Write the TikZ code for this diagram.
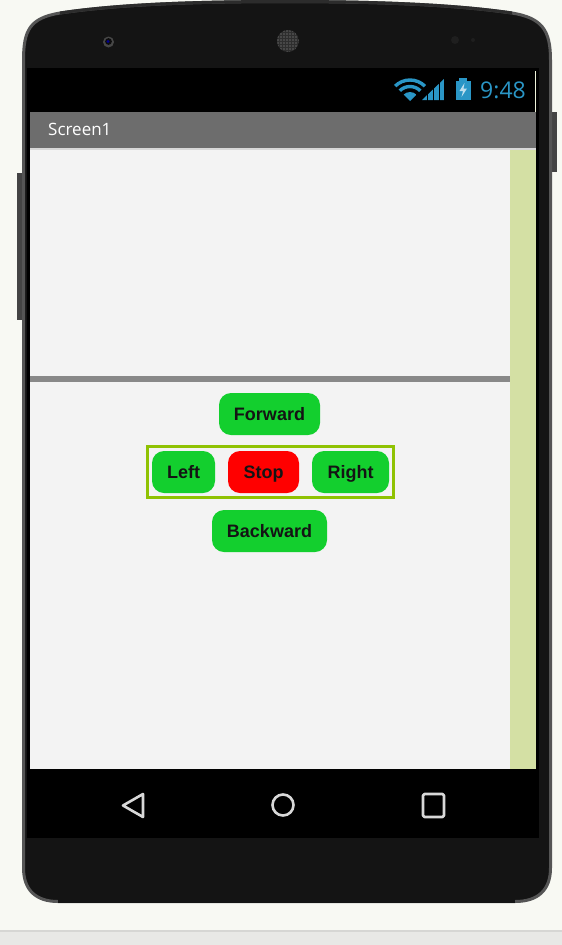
\documentclass[tikz,border=0pt]{standalone}
\usepackage{fontspec}
\setmainfont{Liberation Sans}
\newfontfamily\barfont{Open Sans}
\definecolor{pagebg}{HTML}{F8F9F3}
\definecolor{stripbg}{HTML}{E8E8E6}
\definecolor{stripline}{HTML}{D6D6D4}
\definecolor{shell}{HTML}{141414}
\definecolor{rim}{HTML}{555555}
\definecolor{rimdark}{HTML}{2C2C2C}
\definecolor{sidekey}{HTML}{444444}
\definecolor{titlebar}{HTML}{6D6D6D}
\definecolor{titleline}{HTML}{D8D8D8}
\definecolor{canvas}{HTML}{F3F3F3}
\definecolor{sidestrip}{HTML}{D4E0A4}
\definecolor{divider}{HTML}{888888}
\definecolor{btngreen}{HTML}{13CF2E}
\definecolor{btnred}{HTML}{FF0000}
\definecolor{framegreen}{HTML}{8FC202}
\definecolor{statusblue}{HTML}{2A96C6}
\definecolor{navgrey}{HTML}{D8D8D8}
\tikzset{
  appbtn/.style={inner sep=0pt, anchor=base, font=\fontsize{18}{20}\selectfont\bfseries, text=black!92},
  statusshape/.style={fill=statusblue, draw=none},
  navicon/.style={draw=navgrey, line width=2.6pt, line join=round},
}
\newcommand{\btn}[7]{% name, x0, y0, x1, y1, colour, label
  \fill[#6, rounded corners=12pt] (#2,#3) rectangle (#4,#5);
  \node[appbtn] (#1) at ({(#2+#4)/2},{(#3+#5)/2+6}) {#7};
}
\begin{document}
\begin{tikzpicture}[x=1pt,y=-1pt]
\useasboundingbox (0,0) rectangle (562,945);
% page
\fill[pagebg] (0,0) rectangle (562,945);
\fill[stripbg] (0,930) rectangle (562,945);
\fill[stripline] (0,930) rectangle (562,932);
% side keys
\fill[sidekey] (17,173) rectangle (24,320);
\fill[sidekey] (550,112) rectangle (557,172);
% phone body
\path[fill=shell, draw=rim, line width=3pt]
  (23.5,60) .. controls (23.5,30) and (30,18) .. (60,13)
  .. controls (120,4) and (200,1.5) .. (285,1.5)
  .. controls (370,1.5) and (450,4) .. (512,13)
  .. controls (542,18) and (550.5,30) .. (550.5,60)
  -- (550.5,868) .. controls (550.5,890) and (538,901.5) .. (515,901.5)
  -- (58,901.5) .. controls (36,901.5) and (23.5,890) .. (23.5,868) -- cycle;
% darker top and bottom edges
\draw[rimdark, line width=3pt]
  (60,13) .. controls (120,4) and (200,1.5) .. (285,1.5)
  .. controls (370,1.5) and (450,4) .. (512,13);
\draw[shell, line width=3.2pt] (515,901.5) -- (58,901.5);
% camera, speaker, sensors
\fill[black!72] (108.5,42) circle (5.5);
\fill[black!95] (108.5,41.5) circle (3.4);
\fill[blue!55!black] (108,41.5) circle (1.6);
\begin{scope}
  \clip (288,41) circle (11);
  \fill[black!82] (288,41) circle (11);
  \foreach \dx in {-10,-7,...,11}
    \foreach \dy in {-10,-7,...,11}
      \fill[black!62] (288+\dx,41+\dy) circle (0.9);
\end{scope}
\fill[black!88] (455,40) circle (4);
\fill[black!88] (473,40) circle (2);
% screen
\fill[black] (27,68) rectangle (539,838);
\fill[titlebar] (30,112) rectangle (536,148);
\fill[titleline] (30,148) rectangle (536,150);
\fill[canvas] (30,150) rectangle (510,769);
\fill[sidestrip] (510,150) rectangle (536,769);
\fill[divider] (30,376) rectangle (510,382);
\fill[sidestrip!40!white] (535,71) rectangle (536,112);
% status bar
\node[font=\barfont\fontsize{17}{20}\selectfont, text=white, anchor=west, inner sep=0pt] (title) at (48,129) {Screen1};
\node[font=\barfont\fontsize{23}{26}\selectfont, text=statusblue, anchor=east, inner sep=0pt] (clock) at (526,90) {9:48};
% wifi
\begin{scope}
  \clip (410,101) -- (392,83) -- (395,75) -- (425,75) -- (428,83) -- cycle;
  \draw[statusblue, line width=3.4pt] (410,101) circle (21);
  \draw[statusblue, line width=3.4pt] (410,101) circle (14.5);
  \fill[statusblue] (410,101) circle (9);
\end{scope}
% signal
\begin{scope}
  \clip (422,100) -- (444,79) -- (444,100) -- cycle;
  \foreach \bx in {422,428,434,440}
    \fill[statusblue] (\bx,78) rectangle (\bx+4.5,101);
\end{scope}
% battery
\fill[statusshape] (459,78) rectangle (467,81);
\fill[statusshape] (455.5,80.5) rectangle (471,100);
\fill[white!70!statusblue] (464.5,83) -- (459.5,91) -- (463,91) -- (461.5,97) -- (467,88.5) -- (463.5,88.5) -- cycle;
% buttons
\btn{forward}{219}{393}{320}{435}{btngreen}{Forward}
\draw[framegreen, line width=2.7pt] (147.3,446.3) rectangle (393.7,497.7);
\btn{left}{152}{451}{215}{493}{btngreen}{Left}
\btn{stop}{228}{451}{299}{493}{btnred}{Stop}
\btn{right}{312}{451}{389}{493}{btngreen}{Right}
\btn{backward}{212}{510}{327}{552}{btngreen}{Backward}
% navigation icons
\draw[navicon] (143,794) -- (123,805.5) -- (143,817) -- cycle;
\draw[navicon] (283,805) circle (10.5);
\draw[navicon, rounded corners=1.5pt] (423,794) rectangle (444,817);
\end{tikzpicture}
\end{document}
